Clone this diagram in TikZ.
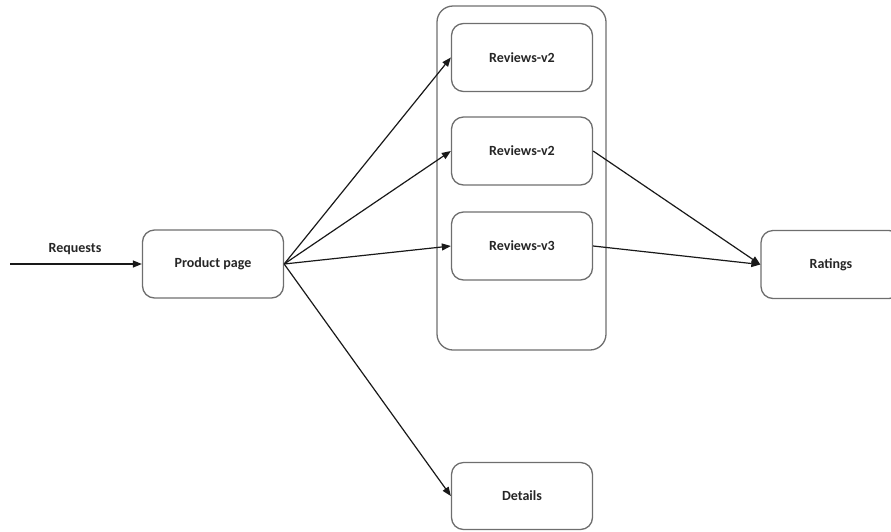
\documentclass[tikz,border=0pt]{standalone}
\usepackage{fontspec}
\setmainfont{Carlito}
\usetikzlibrary{arrows.meta}
\definecolor{boxgray}{HTML}{6E6E6E}
\definecolor{textdark}{HTML}{262626}
\begin{document}
\begin{tikzpicture}[x=1pt,y=-1pt,
  label text/.style={font=\bfseries\fontsize{14}{16}\selectfont,text=textdark},
  svc/.style={label text,draw=boxgray,line width=1.3pt,rounded corners=12pt,
    minimum width=141pt,minimum height=68pt,inner sep=0pt},
  group box/.style={draw=boxgray,line width=1.3pt,rounded corners=16pt,
    minimum width=169pt,minimum height=344pt,inner sep=0pt},
  flow/.style={draw=black!90,line width=1.2pt,-{Triangle[length=9pt,width=7pt]}}]
\useasboundingbox (0,0) rectangle (891,531);

% container around the reviews versions
\node[group box] (group) at (521.5,178) {};

% services
\node[svc] (product) at (213,264) {Product page};
\node[svc] (rev1) at (522,57.5) {Reviews-v2};
\node[svc] (rev2) at (522,151) {Reviews-v2};
\node[svc] (rev3) at (522,246) {Reviews-v3};
\node[svc,minimum width=140pt] (ratings) at (831,264.5) {Ratings};
\node[svc,minimum height=67pt] (details) at (522,496) {Details};

% incoming requests
\coordinate (src) at (10,264);
\node[label text] (reqlabel) at (75,249) {Requests};
\draw[flow] (src) -- (product.west);

% calls from the product page
\draw[flow] (product.east) -- (rev1.west);
\draw[flow] (product.east) -- (rev2.west);
\draw[flow] (product.east) -- (rev3.west);
\draw[flow] (product.east) -- (details.west);

% calls to ratings
\draw[flow] (rev2.east) -- (ratings.west);
\draw[flow] (rev3.east) -- (ratings.west);
\end{tikzpicture}
\end{document}
